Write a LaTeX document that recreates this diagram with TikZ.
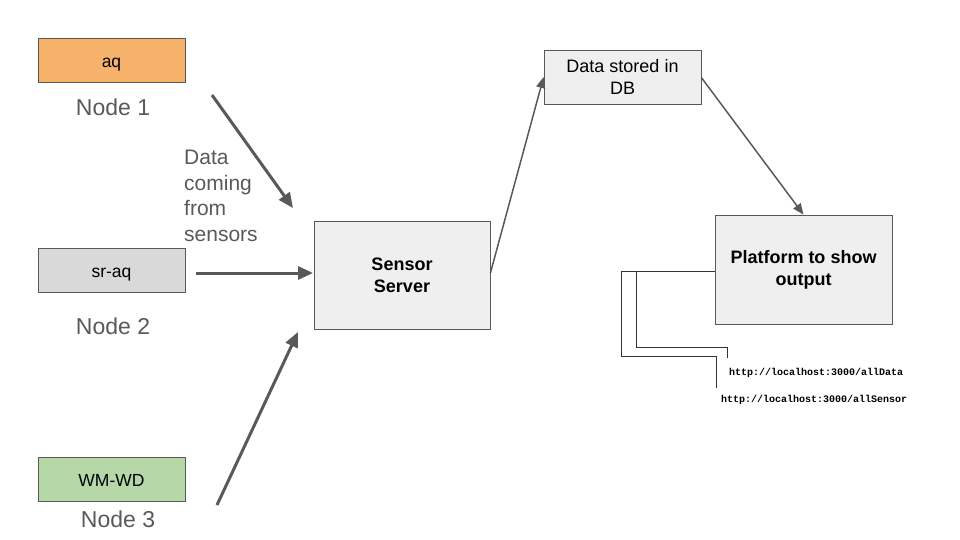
\documentclass[tikz,border=0pt]{standalone}
\usepackage{fontspec}
\setmainfont{Liberation Sans}
\newfontfamily\monofont{Liberation Mono}
\usetikzlibrary{arrows.meta}
\definecolor{edgegray}{HTML}{595959}
\definecolor{boxline}{HTML}{595959}
\definecolor{orangefill}{HTML}{F6B26B}
\definecolor{grayfill}{HTML}{D9D9D9}
\definecolor{greenfill}{HTML}{B6D7A8}
\definecolor{lightfill}{HTML}{EFEFEF}
\tikzset{
  sbox/.style={draw=boxline, line width=0.8pt, minimum width=147pt, minimum height=44pt, inner sep=0pt, text height=16pt, text depth=1pt, font=\fontsize{17.5}{20}\selectfont},
  bigbox/.style={draw=boxline, line width=0.8pt, fill=lightfill, inner sep=0pt, align=center, font=\bfseries\fontsize{18}{22}\selectfont},
  lbl/.style={text=edgegray, font=\fontsize{23}{27}\selectfont, inner sep=0pt},
  thickarr/.style={draw=edgegray, line width=3pt, -{Triangle[length=15pt,width=13pt]}},
  thinarr/.style={draw=edgegray, line width=1.5pt, -{Triangle[length=11pt,width=9pt]}},
  wire/.style={draw=black!80, line width=0.8pt},
  url/.style={font=\monofont\bfseries\fontsize{10}{12}\selectfont, inner sep=0pt, anchor=west}
}
\begin{document}
\begin{tikzpicture}[x=1pt,y=-1pt]
\useasboundingbox (0,0) rectangle (960,540);
% source boxes
\node[sbox, fill=orangefill] (aq) at (111.5,60) {aq};
\node[lbl] (n1) at (113,107) {Node 1};
\node[sbox, fill=grayfill] (sraq) at (111.5,270) {sr-aq};
\node[lbl] (n2) at (113,326) {Node 2};
\node[sbox, fill=greenfill] (wmwd) at (111.5,479) {WM-WD};
\node[lbl] (n3) at (118,519) {Node 3};
% text
\node[text=edgegray, font=\fontsize{21}{25.5}\selectfont, align=left, anchor=north west, inner sep=0pt] (dc) at (184,150) {Data\\coming\\from\\sensors};
% main boxes
\node[bigbox, minimum width=176pt, minimum height=108pt] (server) at (402,275) {Sensor\\Server};
\node[bigbox, minimum width=157pt, minimum height=54pt, font=\fontsize{18}{22}\selectfont] (db) at (622.5,77) {Data stored in\\DB};
\node[bigbox, minimum width=177pt, minimum height=109pt] (plat) at (803.5,269.5) {Platform to show\\output};
% arrow coordinates
\coordinate (a1s) at (212,95);
\coordinate (a1e) at (293,208);
\coordinate (a2s) at (196,273);
\coordinate (a2e) at (313,273);
\coordinate (a3s) at (217,505);
\coordinate (a3e) at (298,332);
\draw[thickarr] (a1s) -- (a1e);
\draw[thickarr] (a2s) -- (a2e);
\draw[thickarr] (a3s) -- (a3e);
\draw[thinarr] (server.east) ++(0,-2) -- (db.west);
\draw[thinarr] (db.north east) ++(0,28) -- ([xshift=0pt]plat.north);
% urls
\node[url] (u1) at (729,373) {http://localhost:3000/allData};
\node[url] (u2) at (721,400) {http://localhost:3000/allSensor};
% wires
\coordinate (w1a) at (621,271);
\coordinate (w2a) at (636,271);
\draw[wire] (plat.west |- w1a) -- (w1a) -- (621,356) -- (716,356) -- (716,388);
\draw[wire] (w2a) -- (636,347) -- (727,347) -- (727,358);
\end{tikzpicture}
\end{document}
